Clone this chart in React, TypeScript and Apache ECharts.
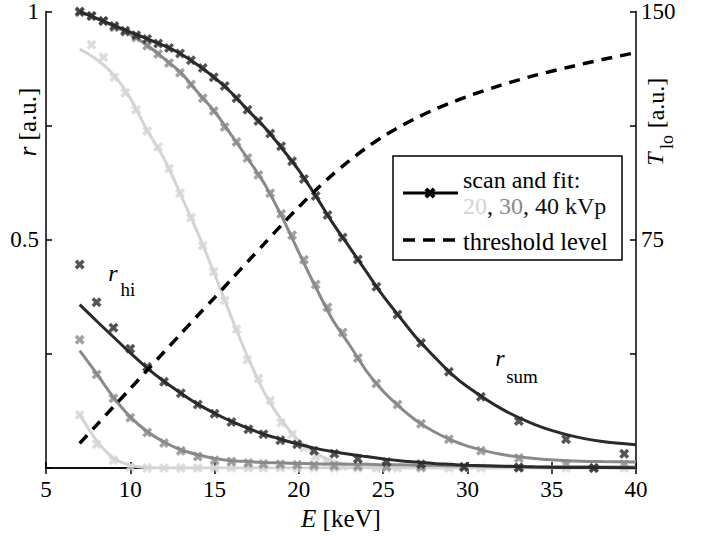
import React, { useEffect, useRef } from 'react';
import * as echarts from 'echarts';

const FONT = '"Liberation Serif", "Times New Roman", serif';
const C20 = '#d4d4d4';
const C30 = '#8a8a8a';
const C40 = '#2a2a2a';

// Tick labels
const xTicks = [5, 10, 15, 20, 25, 30, 35, 40];
const leftLabels = ['0.5', '1'];
const rightLabels = ['75', '150'];

// Fit curves (E grid in keV)
const fitE = [7, 8, 9, 10, 11, 12, 13, 14, 15, 16, 17, 18, 19, 20, 21, 22, 23, 24, 25, 26, 27, 28, 29, 30, 32, 34, 36, 38, 40];
const sumFit40 = [1.0, 0.985, 0.97, 0.955, 0.94, 0.925, 0.907, 0.883, 0.855, 0.822, 0.783, 0.745, 0.70, 0.652, 0.596, 0.537, 0.484, 0.43, 0.377, 0.33, 0.284, 0.245, 0.208, 0.178, 0.13, 0.095, 0.072, 0.058, 0.051];
const sumFit30 = [0.998, 0.985, 0.968, 0.95, 0.926, 0.897, 0.866, 0.823, 0.781, 0.729, 0.676, 0.62, 0.55, 0.472, 0.396, 0.325, 0.27, 0.213, 0.168, 0.133, 0.103, 0.08, 0.062, 0.048, 0.03, 0.021, 0.016, 0.014, 0.013];
const sumFit20 = [0.918, 0.895, 0.862, 0.81, 0.74, 0.678, 0.598, 0.515, 0.425, 0.33, 0.24, 0.162, 0.103, 0.06, 0.032, 0.015, 0.007, 0.003, 0.001, 0, 0, 0, 0, 0, 0, 0, 0, 0, 0];
const hiFit40 = [0.358, 0.322, 0.287, 0.252, 0.219, 0.19, 0.164, 0.14, 0.12, 0.102, 0.087, 0.073, 0.062, 0.052, 0.043, 0.036, 0.03, 0.025, 0.02, 0.016, 0.013, 0.01, 0.008, 0.006, 0.004, 0.002, 0.001, 0.001, 0];
const hiFit30 = [0.257, 0.207, 0.155, 0.112, 0.08, 0.057, 0.04, 0.029, 0.021, 0.016, 0.014, 0.012, 0.011, 0.01, 0.009, 0.009, 0.008, 0.008, 0.007, 0.007, 0.006, 0.006, 0.005, 0.005, 0.004, 0.003, 0.003, 0.002, 0.002];
const hiFit20 = [0.117, 0.06, 0.022, 0.006, 0.001, 0, 0, 0, 0, 0, 0, 0, 0, 0, 0, 0, 0, 0, 0, 0, 0, 0, 0, 0, 0, 0, 0, 0, 0];
const threshold = [8.1, 14.1, 20.1, 26.1, 32.1, 38.1, 44.1, 50.1, 56, 62, 68, 74, 80, 85.8, 91.3, 96.4, 101, 105.2, 108.9, 112.2, 115.1, 117.7, 120, 122.1, 125.8, 129, 131.7, 134.2, 136.5];

// Scan points, r_sum
const sumE = [7.0, 7.7, 8.4, 9.05, 9.7, 10.35, 11.0, 11.65, 12.3, 12.95, 13.6, 14.3, 14.95, 15.6, 16.3, 16.95, 17.6, 18.3, 18.95, 19.6, 20.3, 21.0, 21.7, 22.6, 23.5, 24.6, 25.85, 27.25, 28.9, 30.8, 33.05, 35.85, 39.3];
const sum40 = [1.0, 0.99, 0.98, 0.968, 0.958, 0.948, 0.94, 0.93, 0.92, 0.908, 0.893, 0.876, 0.856, 0.837, 0.81, 0.785, 0.76, 0.733, 0.705, 0.672, 0.633, 0.596, 0.554, 0.505, 0.457, 0.397, 0.336, 0.274, 0.211, 0.156, 0.103, 0.063, 0.031];
const sum30 = [0.998, 0.99, 0.978, 0.965, 0.955, 0.943, 0.925, 0.907, 0.887, 0.866, 0.84, 0.81, 0.782, 0.747, 0.714, 0.679, 0.642, 0.602, 0.557, 0.51, 0.456, 0.402, 0.352, 0.297, 0.241, 0.185, 0.139, 0.097, 0.063, 0.038, 0.022, 0.008, 0.008];
const sum20 = [null, 0.927, 0.90, 0.856, 0.822, 0.785, 0.738, 0.703, 0.656, 0.602, 0.548, 0.487, 0.43, 0.367, 0.304, 0.237, 0.196, 0.148, 0.099, 0.074, 0.045, 0.025, 0.011, 0.004, 0.002, 0, 0, 0, 0, 0, 0, 0, 0];

// Scan points, r_hi
const hiE = [7, 8, 9, 10, 11, 12, 13, 14, 15, 16, 17, 17.9, 18.9, 19.9, 20.9, 22.1, 23.5, 25.2, 27.25, 29.8, 33.05, 37.5];
const hi40 = [0.446, 0.363, 0.307, 0.261, 0.221, 0.189, 0.164, 0.139, 0.119, 0.101, 0.085, 0.074, 0.061, 0.052, 0.038, 0.031, 0.02, 0.013, 0.008, 0.003, 0.001, 0];
const hi30 = [0.281, 0.205, 0.153, 0.11, 0.078, 0.055, 0.038, 0.025, 0.017, 0.014, 0.011, 0.009, 0.008, 0.007, 0.006, 0.005, 0.004, 0.003, 0.002, 0.001, 0.001, 0];
const hi20 = [0.116, 0.052, 0.017, 0.002, 0, 0, 0, 0, 0, 0, 0, 0, 0, 0, 0, 0, 0, 0, 0, 0, 0, 0];

const XPTS = [[0, 2.5], [2.5, 0], [5, 2.5], [7.5, 0], [10, 2.5], [7.5, 5], [10, 7.5], [7.5, 10], [5, 7.5], [2.5, 10], [0, 7.5], [2.5, 5]];
const XSYM = 'path://M' + XPTS.map((p) => p.join(',')).join('L') + 'Z';

const zip = (xs: number[], ys: (number | null)[]) =>
  xs.map((x, i) => [x, ys[i]]).filter((p) => p[1] !== null);

function fitLine(name: string, ys: number[], color: string, z: number) {
  return {
    name, type: 'line', data: zip(fitE, ys), smooth: 0.3, showSymbol: false, symbol: 'none',
    lineStyle: { color, width: 3 }, z, silent: true,
  };
}
function scan(name: string, xs: number[], ys: (number | null)[], color: string, z: number) {
  return {
    name, type: 'scatter', data: zip(xs, ys), symbol: XSYM, symbolSize: 10,
    itemStyle: { color }, z, clip: false, silent: true,
  };
}

const tickStyle = { inside: true, length: 6, lineStyle: { color: '#000', width: 1.5 } };
const lineStyle = { lineStyle: { color: '#000', width: 1.5 } };
const labelBase = { fontFamily: FONT, fontSize: 23, color: '#000' };
const titleBase = { fontFamily: FONT, fontSize: 25, color: '#000' };

function xMarker(cx: number, cy: number, s: number) {
  return XPTS.map((p) => [cx - s / 2 + (p[0] * s) / 10, cy - s / 2 + (p[1] * s) / 10]);
}

const option = {
  animation: false,
  backgroundColor: '#fff',
  textStyle: { fontFamily: FONT, color: '#000' },
  grid: { left: 46, right: 71, top: 7, bottom: 65, containLabel: false },
  xAxis: [
    {
      type: 'value', min: 5, max: 40, interval: 5, position: 'bottom',
      axisLine: { show: true, ...lineStyle }, axisTick: tickStyle, splitLine: { show: false },
      axisLabel: { ...labelBase, margin: 10, formatter: (v: number) => (xTicks.includes(v) ? String(v) : '') },
      name: '{i|E} [keV]', nameLocation: 'middle', nameGap: 38,
      nameTextStyle: { ...titleBase, rich: { i: { ...titleBase, fontStyle: 'italic' } } },
    },
    {
      type: 'value', min: 5, max: 40, interval: 5, position: 'top',
      axisLine: { show: true, ...lineStyle }, axisTick: tickStyle, splitLine: { show: false },
      axisLabel: { show: false },
    },
  ],
  yAxis: [
    {
      type: 'value', min: 0, max: 1, interval: 0.25, position: 'left',
      axisLine: { show: true, ...lineStyle }, axisTick: tickStyle, splitLine: { show: false },
      axisLabel: { ...labelBase, margin: 7, formatter: (v: number) => (leftLabels.includes(String(v)) ? String(v) : '') },
    },
    {
      type: 'value', min: 0, max: 150, interval: 37.5, position: 'right',
      axisLine: { show: true, ...lineStyle }, axisTick: tickStyle, splitLine: { show: false },
      axisLabel: { ...labelBase, margin: 5, formatter: (v: number) => (rightLabels.includes(String(v)) ? String(v) : '') },
    },
  ],
  series: [
    fitLine('sum fit 20', sumFit20, C20, 2),
    scan('sum scan 20', sumE, sum20, C20, 2),
    fitLine('hi fit 20', hiFit20, C20, 2),
    scan('hi scan 20', hiE, hi20, C20, 2),
    fitLine('sum fit 30', sumFit30, C30, 3),
    scan('sum scan 30', sumE, sum30, C30, 3),
    fitLine('hi fit 30', hiFit30, C30, 3),
    scan('hi scan 30', hiE, hi30, C30, 3),
    fitLine('sum fit 40', sumFit40, C40, 4),
    scan('sum scan 40', sumE, sum40, C40, 4),
    fitLine('hi fit 40', hiFit40, C40, 4),
    scan('hi scan 40', hiE, hi40, C40, 4),
    {
      name: 'threshold level', type: 'line', yAxisIndex: 1, data: zip(fitE, threshold), smooth: 0.3,
      showSymbol: false, symbol: 'none', lineStyle: { color: '#000', width: 3.5, type: [11, 8] }, z: 5, silent: true,
    },
  ],
  graphic: [
    // axis titles
    {
      type: 'text', x: 27, y: 122, rotation: Math.PI / 2, z: 10,
      style: {
        text: '{i|r} [a.u.]', align: 'center', verticalAlign: 'middle', fontFamily: FONT, fontSize: 25, fill: '#000',
        rich: { i: { fontFamily: FONT, fontSize: 25, fontStyle: 'italic', fill: '#000' } },
      },
    },
    { type: 'text', x: 656, y: 103, rotation: Math.PI / 2, z: 10, style: { text: '[a.u.]', align: 'center', verticalAlign: 'middle', fontFamily: FONT, fontSize: 24, fill: '#000' } },
    { type: 'text', x: 667, y: 142, rotation: Math.PI / 2, z: 10, style: { text: 'lo', align: 'center', verticalAlign: 'middle', fontFamily: FONT, fontSize: 18, fill: '#000' } },
    { type: 'text', x: 655, y: 159, rotation: Math.PI / 2, z: 10, style: { text: 'T', align: 'center', verticalAlign: 'middle', fontFamily: FONT, fontSize: 24, fontStyle: 'italic', fill: '#000' } },
    // curve annotations
    { type: 'text', x: 113, y: 273, z: 10, style: { text: 'r', align: 'center', verticalAlign: 'middle', fontFamily: FONT, fontSize: 24, fontStyle: 'italic', fill: '#000' } },
    { type: 'text', x: 128, y: 289, z: 10, style: { text: 'hi', align: 'center', verticalAlign: 'middle', fontFamily: FONT, fontSize: 19, fill: '#000' } },
    { type: 'text', x: 500, y: 358, z: 10, style: { text: 'r', align: 'center', verticalAlign: 'middle', fontFamily: FONT, fontSize: 24, fontStyle: 'italic', fill: '#000' } },
    { type: 'text', x: 522, y: 376, z: 10, style: { text: 'sum', align: 'center', verticalAlign: 'middle', fontFamily: FONT, fontSize: 19, fill: '#000' } },
    // legend
    { type: 'rect', z: 20, shape: { x: 393, y: 156, width: 229, height: 104 }, style: { fill: '#fff', stroke: '#000', lineWidth: 1.5 } },
    { type: 'line', z: 21, shape: { x1: 403, y1: 193, x2: 458, y2: 193 }, style: { stroke: '#000', lineWidth: 3 } },
    { type: 'polygon', z: 22, shape: { points: xMarker(430, 193, 11) }, style: { fill: '#000' } },
    { type: 'text', z: 21, x: 463, y: 180, style: { text: 'scan and fit:', align: 'left', verticalAlign: 'middle', fontFamily: FONT, fontSize: 24, fill: '#000' } },
    {
      type: 'text', z: 21, x: 463, y: 206,
      style: {
        text: '{a|20}{k|, }{b|30}{k|, 40 kVp}', align: 'left', verticalAlign: 'middle', fontFamily: FONT, fontSize: 24, fill: '#000',
        rich: {
          a: { fontFamily: FONT, fontSize: 24, fill: C20 },
          b: { fontFamily: FONT, fontSize: 24, fill: C30 },
          k: { fontFamily: FONT, fontSize: 24, fill: '#111' },
        },
      },
    },
    { type: 'line', z: 21, shape: { x1: 403, y1: 240, x2: 458, y2: 240 }, style: { stroke: '#000', lineWidth: 3.5, lineDash: [12, 8] } },
    { type: 'text', z: 21, x: 463, y: 241, style: { text: 'threshold level', align: 'left', verticalAlign: 'middle', fontFamily: FONT, fontSize: 24.5, fill: '#000' } },
  ],
};

export default function App() {
  const ref = useRef<HTMLDivElement>(null);
  useEffect(() => {
    document.body.style.margin = '0';
    const chart = echarts.init(ref.current!, null, { renderer: 'svg' });
    chart.setOption(option as any);
    return () => chart.dispose();
  }, []);
  return <div ref={ref} style={{ width: 707, height: 536 }} />;
}
